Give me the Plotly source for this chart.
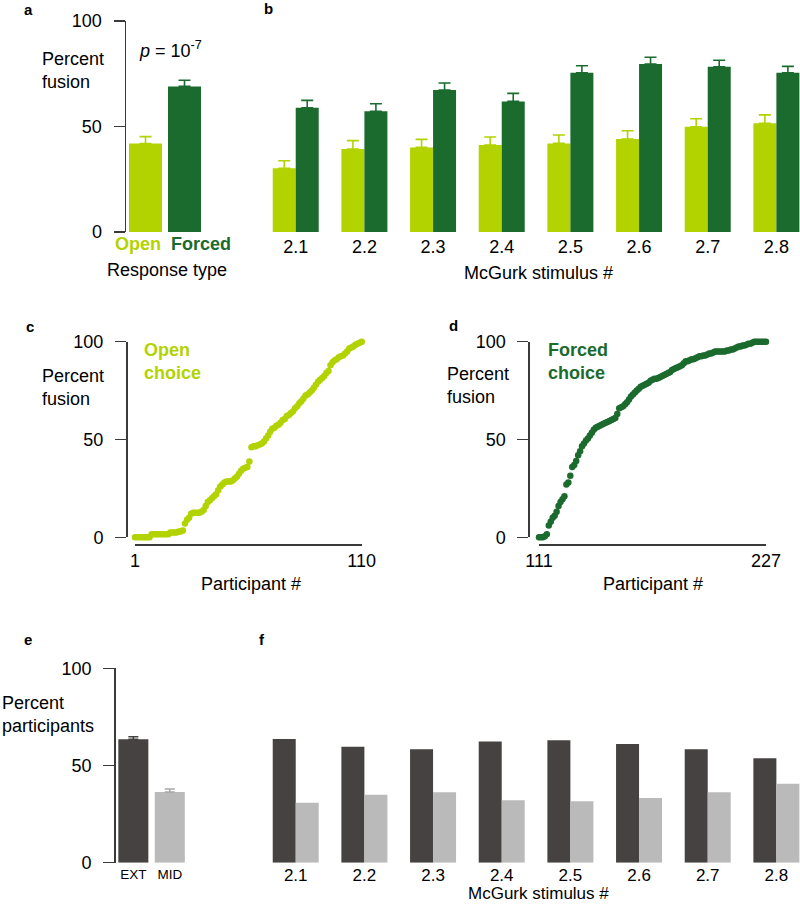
import plotly.graph_objects as go

W, H = 800, 904
FONT = "Liberation Sans, Arial, Helvetica, sans-serif"


def px(x):
    return x / W


def py(y):
    return 1 - y / H


LIGHT_GREEN = "#b2d300"
DARK_GREEN = "#1b6a2e"
DARK_GRAY = "#464241"
LIGHT_GRAY = "#bababa"
AXIS = "#3a3a3a"

# ---------------- data ----------------
response_types = ["Open", "Forced"]
response_fusion = [41.9, 69.0]
response_err = [3.3, 2.9]

stimuli = ["2.1", "2.2", "2.3", "2.4", "2.5", "2.6", "2.7", "2.8"]
open_fusion = [30.2, 39.3, 40.1, 41.2, 42.0, 44.1, 49.9, 51.5]
open_err = [3.6, 4.0, 3.8, 3.8, 4.0, 3.9, 3.8, 4.0]
forced_fusion = [58.9, 57.2, 67.3, 61.9, 75.5, 79.6, 78.3, 75.5]
forced_err = [3.5, 3.6, 3.3, 3.8, 3.3, 3.2, 3.1, 3.0]

open_participants = list(range(1, 111))
open_choice_fusion = [
    0, 0, 0, 0, 0, 0, 0, 0, 1.5, 1.5,
    1.5, 1.5, 1.5, 1.5, 1.5, 1.5, 1.5, 2.5, 2.5, 2.5,
    2.5, 3, 3, 3.5, 7, 9, 10, 12, 12.5, 12.5,
    12.5, 12.5, 13, 14, 16, 18, 19, 20, 21, 22,
    24, 26, 27, 28, 28.5, 28.5, 28.5, 29, 30, 31,
    32.5, 34, 35, 35.5, 36, 38.7, 46, 46.5, 46.5, 47,
    47.5, 48, 49, 50.5, 52, 54, 55.5, 56, 57, 57.5,
    58.5, 60, 60.5, 62, 62.5, 63.5, 64.5, 66, 67, 68.5,
    69.5, 71, 72.5, 73, 74, 75, 76.5, 78, 79.5, 80.5,
    81.5, 82.5, 84, 85, 88, 89.5, 90.5, 91, 92, 92.5,
    93, 94, 95, 96.5, 97, 97.5, 98.5, 99, 99.5, 100,
]

forced_participants = list(range(111, 228))
forced_choice_fusion = [
    0, 0, 0, 0.5, 1.5, 6, 8, 10, 11, 13,
    16, 18, 19.5, 21, 27, 28, 31.5, 36, 37, 39,
    42, 44, 46.5, 48, 49.5, 50.5, 52, 53.5, 55, 56,
    56.5, 57, 57.5, 58, 58.5, 59, 59.5, 60, 60.5, 61,
    63, 66, 66.5, 67, 68, 69, 70.5, 72, 73, 74,
    75, 76, 77, 77.5, 78, 78.5, 79, 80, 80.5, 81,
    81, 81.5, 82, 82.5, 83, 83.5, 84, 84.5, 85.5, 86,
    86.5, 87, 87.5, 88, 89, 90, 90, 90.5, 91, 91,
    91.5, 92, 92.5, 92.5, 93, 93, 93.5, 94, 94, 94.5,
    95, 95, 95, 95, 95, 95, 95.5, 95.5, 96, 96,
    96.5, 97, 97.5, 97.5, 98, 98, 98.5, 99, 99, 99.5,
    100, 100, 100, 100, 100, 100, 100,
]

perception_types = ["EXT", "MID"]
perception_pct = [63.5, 36.4]
perception_err = [1.3, 1.5]

ext_pct = [63.6, 59.7, 58.3, 62.4, 63.0, 61.1, 58.3, 53.7]
mid_pct = [30.9, 35.0, 36.2, 32.1, 31.6, 33.3, 36.2, 40.6]

y_ticks = [0, 50, 100]

# ---------------- traces ----------------
fig = go.Figure()


def err(arr, color, width=6):
    return dict(type="data", array=arr, arrayminus=[0] * len(arr), symmetric=False,
                color=color, thickness=1.6, width=width)


# panel a
fig.add_trace(go.Bar(x=[response_types[0]], y=[response_fusion[0]], width=0.846, offset=-0.423,
                     marker=dict(color=LIGHT_GREEN, line=dict(width=0)),
                     error_y=err([response_err[0]], LIGHT_GREEN), xaxis="x", yaxis="y"))
fig.add_trace(go.Bar(x=[response_types[1]], y=[response_fusion[1]], width=0.846, offset=-0.423,
                     marker=dict(color=DARK_GREEN, line=dict(width=0)),
                     error_y=err([response_err[1]], DARK_GREEN), xaxis="x", yaxis="y"))

# panel b
fig.add_trace(go.Bar(x=stimuli, y=open_fusion, width=0.335, offset=-0.335,
                     marker=dict(color=LIGHT_GREEN, line=dict(width=0)),
                     error_y=err(open_err, LIGHT_GREEN), xaxis="x2", yaxis="y2"))
fig.add_trace(go.Bar(x=stimuli, y=forced_fusion, width=0.335, offset=0,
                     marker=dict(color=DARK_GREEN, line=dict(width=0)),
                     error_y=err(forced_err, DARK_GREEN), xaxis="x2", yaxis="y2"))

# panel c
fig.add_trace(go.Scatter(x=open_participants, y=open_choice_fusion, mode="markers",
                         marker=dict(color=LIGHT_GREEN, size=6.5, line=dict(width=0)),
                         cliponaxis=False, xaxis="x3", yaxis="y3"))
# panel d
fig.add_trace(go.Scatter(x=forced_participants, y=forced_choice_fusion, mode="markers",
                         marker=dict(color=DARK_GREEN, size=6.5, line=dict(width=0)),
                         cliponaxis=False, xaxis="x4", yaxis="y4"))

# panel e
fig.add_trace(go.Bar(x=[perception_types[0]], y=[perception_pct[0]], width=0.824, offset=-0.412,
                     marker=dict(color=DARK_GRAY, line=dict(width=0)),
                     error_y=err([perception_err[0]], DARK_GRAY, 5), xaxis="x5", yaxis="y5"))
fig.add_trace(go.Bar(x=[perception_types[1]], y=[perception_pct[1]], width=0.824, offset=-0.412,
                     marker=dict(color=LIGHT_GRAY, line=dict(width=0)),
                     error_y=err([perception_err[1]], "#a8a8a8", 5), xaxis="x5", yaxis="y5"))

# panel f
fig.add_trace(go.Bar(x=stimuli, y=ext_pct, width=0.335, offset=-0.335,
                     marker=dict(color=DARK_GRAY, line=dict(width=0)),
                     xaxis="x6", yaxis="y6"))
fig.add_trace(go.Bar(x=stimuli, y=mid_pct, width=0.335, offset=0,
                     marker=dict(color=LIGHT_GRAY, line=dict(width=0)),
                     xaxis="x6", yaxis="y6"))

# ---------------- axes ----------------
def yax(domain, **kw):
    d = dict(domain=domain, range=[0, 100], showline=True, linecolor=AXIS, linewidth=1.5,
             ticks="outside", ticklen=11, tickwidth=1.5, tickcolor=AXIS, tickvals=y_ticks,
             tickfont=dict(size=18, color="black"), showgrid=False, zeroline=False,
             ticklabelstandoff=8, fixedrange=True, automargin=False)
    d.update(kw)
    return d


def hidden_y(domain, anchor):
    return dict(domain=domain, range=[0, 100], visible=False, anchor=anchor, fixedrange=True,
                automargin=False)


top_dom = [py(232), py(21)]
mid_dom = [py(537.3), py(341.7)]
bot_dom = [py(862.7), py(668.3)]

layout_axes = dict(
    xaxis=dict(domain=[px(126), px(204)], range=[-0.5, 1.5], type="category",
               categoryorder="array", categoryarray=response_types, visible=False, anchor="y",
               automargin=False, fixedrange=True),
    yaxis=yax(top_dom, anchor="x"),
    xaxis2=dict(domain=[px(261.4), 1], range=[-0.5, 7.344], type="category",
                categoryorder="array", categoryarray=stimuli, showline=False, ticks="",
                tickfont=dict(size=18, color="black"), showgrid=False, zeroline=False,
                anchor="y2", ticklabelstandoff=2, automargin=False, fixedrange=True),
    yaxis2=hidden_y(top_dom, "x2"),
    xaxis3=dict(domain=[px(135), px(361.7)], range=[1, 110], anchor="free", position=py(544.3),
                showline=True, linecolor=AXIS, linewidth=1.5, ticks="", tickvals=[1, 110],
                tickfont=dict(size=18, color="black"), showgrid=False, zeroline=False,
                automargin=False, fixedrange=True),
    yaxis3=yax(mid_dom, anchor="free", position=px(126)),
    xaxis4=dict(domain=[px(539), px(766)], range=[111, 227], anchor="free", position=py(544.3),
                showline=True, linecolor=AXIS, linewidth=1.5, ticks="", tickvals=[111, 227],
                tickfont=dict(size=18, color="black"), showgrid=False, zeroline=False,
                automargin=False, fixedrange=True),
    yaxis4=yax(mid_dom, anchor="free", position=px(528.3)),
    xaxis5=dict(domain=[px(115.7), px(188)], range=[-0.484, 1.5], type="category",
                categoryorder="array", categoryarray=perception_types, showline=False, ticks="",
                tickfont=dict(size=13.5, color="black"), showgrid=False, zeroline=False,
                anchor="y5", ticklabelstandoff=2, automargin=False, fixedrange=True),
    yaxis5=yax(bot_dom, anchor="x5"),
    xaxis6=dict(domain=[px(261.4), 1], range=[-0.5, 7.344], type="category",
                categoryorder="array", categoryarray=stimuli, showline=False, ticks="",
                tickfont=dict(size=17, color="black"), showgrid=False, zeroline=False,
                anchor="y6", ticklabelstandoff=0, automargin=False, fixedrange=True),
    yaxis6=hidden_y(bot_dom, "x6"),
)

# ---------------- annotations ----------------
annotations = []


def ann(text, x, y, size=18, color="black", xanchor="left", yanchor="middle", align="left",
        pad=1):
    annotations.append(dict(text=text, x=px(x), y=py(y), xref="paper", yref="paper",
                            xanchor=xanchor, yanchor=yanchor, align=align, showarrow=False,
                            borderpad=pad,
                            font=dict(size=size, color=color, family=FONT)))


# panel letters
for letter, lx, ly in [("a", 29, 9), ("b", 268, 8), ("c", 30, 326), ("d", 453, 325),
                       ("e", 28, 639), ("f", 262, 639)]:
    ann(f"<b>{letter}</b>", lx, ly, size=15, xanchor="center")

# panel a
ann("Percent<br>fusion", 40, 71)
ann("<i>p</i> = 10<sup>-7</sup>", 137, 49)
ann(f"<b>{response_types[0]}</b>", 163, 244, color=LIGHT_GREEN, xanchor="right")
ann(f"<b>{response_types[1]}</b>", 168.5, 244, color=DARK_GREEN, xanchor="left")
ann("Response type", 166.7, 270, xanchor="center")

# panel b
ann("McGurk stimulus #", 538, 273, xanchor="center")

# panel c
ann("Percent<br>fusion", 40, 387)
ann("<b>Open<br>choice</b>", 142, 361, color=LIGHT_GREEN)
ann("Participant #", 251, 584, xanchor="center")

# panel d
ann("Percent<br>fusion", 445, 385)
ann("<b>Forced<br>choice</b>", 546, 361, color=DARK_GREEN)
ann("Participant #", 653, 584, xanchor="center")

# panel e
ann("Percent<br>participants", 0, 714)

# panel f
ann("McGurk stimulus #", 538, 904, size=17, xanchor="center", yanchor="bottom", pad=0)

fig.update_layout(
    template="none",
    width=W, height=H,
    margin=dict(l=0, r=0, t=0, b=0, pad=0, autoexpand=False),
    paper_bgcolor="white", plot_bgcolor="rgba(0,0,0,0)",
    showlegend=False,
    hovermode=False,
    font=dict(family=FONT, size=18, color="black"),
    annotations=annotations,
    **layout_axes,
)

fig.write_html(
    "out.html",
    config={"displayModeBar": False, "staticPlot": True},
    post_script="document.body.style.margin='0';document.body.style.overflow='hidden';",
)
